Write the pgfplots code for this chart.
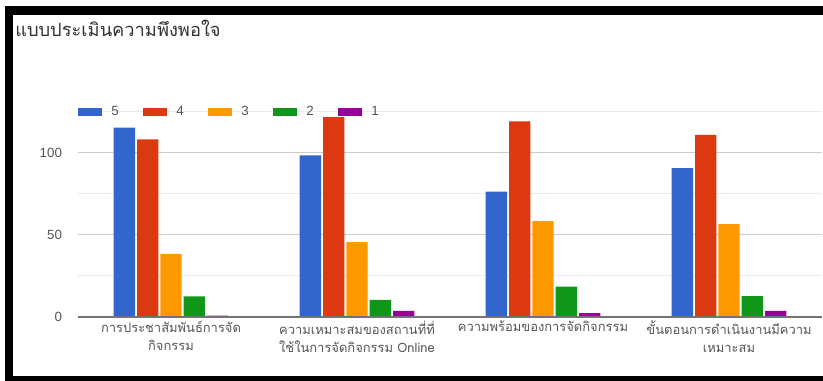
\documentclass[border=0pt]{standalone}
\usepackage{pgfplots}
\pgfplotsset{compat=1.18}
\usepackage{fontspec}
\setmainfont{Liberation Sans}
\newfontfamily\thaifont[Script=Thai]{Loma}
\definecolor{cA}{HTML}{3366CC}
\definecolor{cB}{HTML}{DC3912}
\definecolor{cC}{HTML}{FF9900}
\definecolor{cD}{HTML}{109618}
\definecolor{cE}{HTML}{990099}
\definecolor{txt}{HTML}{555555}
\definecolor{ttl}{HTML}{333333}
\begin{document}
\begin{tikzpicture}
\path[use as bounding box, fill=white] (0,0) rectangle (617.25pt,285.75pt);
\fill[black] (3.75pt,0) rectangle (617.25pt,281.25pt);
\fill[white] (9.75pt,3.75pt) rectangle (617.25pt,274.5pt);
\node[anchor=west, text=ttl, font=\thaifont\fontsize{13.7}{15}\selectfont, inner sep=0pt] at (11.25pt,264.75pt) {แบบประเมินความพึงพอใจ};
\begin{axis}[
  at={(58.5pt,48pt)}, anchor=south west,
  scale only axis, width=558pt, height=153.75pt,
  xmin=-0.5, xmax=3.5, ymin=0, ymax=125,
  ybar=1.5pt, bar width=16pt,
  axis line style={draw=none},
  tick style={draw=none},
  ytick={0,50,100}, minor ytick={25,75,125},
  ymajorgrids, yminorgrids,
  major grid style={draw=black!20, line width=0.75pt},
  minor grid style={draw=black!8, line width=0.75pt},
  /pgf/number format/assume math mode=true,
  yticklabel style={font=\fontsize{10}{12}\selectfont, text=txt, xshift=-8.5pt},
  xtick={0,1,2,3},
  xticklabels={{การประชาสัมพันธ์การจัด\\กิจกรรม},{ความเหมาะสมของสถานที่ที่\\ใช้ในการจัดกิจกรรม Online},{ความพร้อมของการจัดกิจกรรม},{ขั้นตอนการดำเนินงานมีความ\\เหมาะสม}},
  xticklabel style={font=\thaifont\fontsize{9.7}{13.5}\selectfont, text=txt, align=center, anchor=north, yshift=5pt},
  legend columns=-1,
  legend style={at={(0,1)}, anchor=west, draw=none, fill=none, inner sep=0pt, outer sep=0pt,
    font=\fontsize{10}{12}\selectfont, text=txt,
    /tikz/every even column/.append style={column sep=16.2pt}},
  legend image code/.code={\fill[#1,draw=none] (0pt,-3pt) rectangle (18pt,3pt); \path (23pt,0pt);},
  clip=false,
]
\addplot[fill=cA, draw=none] coordinates {(0,115.5) (1,98.5) (2,76.5) (3,90.7)};
\addplot[fill=cB, draw=none] coordinates {(0,108.3) (1,121.8) (2,119.3) (3,111)};
\addplot[fill=cC, draw=none] coordinates {(0,38.5) (1,45.7) (2,58.5) (3,56.7)};
\addplot[fill=cD, draw=none] coordinates {(0,12.5) (1,10.4) (2,18.5) (3,12.8)};
\addplot[fill=cE, draw=none] coordinates {(0,0.8) (1,3.8) (2,2.4) (3,3.7)};
\legend{5,4,3,2,1}
\draw[black!55, line width=1.1pt] (axis cs:-0.5,0) -- (axis cs:3.5,0);
\end{axis}
\end{tikzpicture}
\end{document}
